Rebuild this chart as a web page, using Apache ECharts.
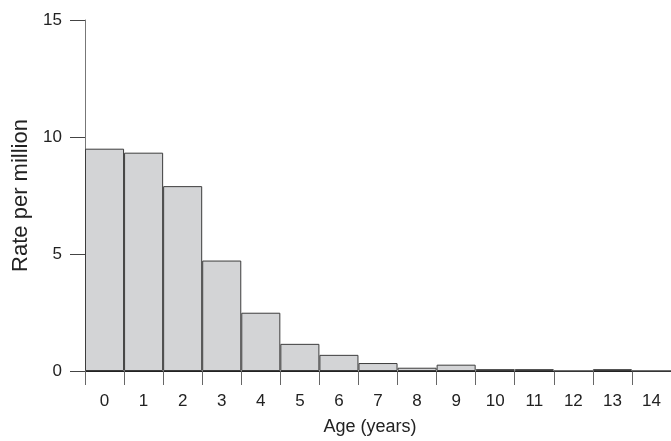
<!DOCTYPE html>
<html>
<head>
<meta charset="utf-8">
<script src="https://cdn.jsdelivr.net/npm/echarts@6/dist/echarts.min.js"></script>
<style>
html,body{margin:0;padding:0;background:#fff;}
#chart{width:671px;height:441px;}
</style>
</head>
<body>
<div id="chart"></div>
<script>
var ages = ['0','1','2','3','4','5','6','7','8','9','10','11','12','13','14'];
var rates = [9.5, 9.33, 7.9, 4.72, 2.49, 1.16, 0.69, 0.34, 0.14, 0.27, 0.08, 0.08, 0, 0.08, 0];
var yTicks = [0, 5, 10, 15];
var xTitle = 'Age (years)';
var yTitle = 'Rate per million';

var FONT = '"Liberation Sans", Arial, Helvetica, sans-serif';
var chart = echarts.init(document.getElementById('chart'), null, {renderer: 'canvas'});
chart.setOption({
  animation: false,
  backgroundColor: '#ffffff',
  grid: {left: 85, right: 0, top: 20, bottom: 68, containLabel: false},
  xAxis: {
    type: 'category',
    data: ages,
    boundaryGap: true,
    name: xTitle,
    nameLocation: 'middle',
    nameGap: 47,
    nameTextStyle: {fontFamily: FONT, fontSize: 18, color: '#222', padding: [0, 16, 0, 0]},
    axisLine: {show: true, lineStyle: {color: '#222', width: 1}},
    axisTick: {show: true, length: 14, alignWithLabel: false, lineStyle: {color: '#666', width: 1}},
    axisLabel: {fontFamily: FONT, fontSize: 17, color: '#222', margin: 22, interval: 0},
    splitLine: {show: false}
  },
  yAxis: {
    type: 'value',
    min: yTicks[0],
    max: yTicks[yTicks.length - 1],
    interval: 5,
    name: yTitle,
    nameLocation: 'middle',
    nameGap: 52,
    nameRotate: 90,
    nameTextStyle: {fontFamily: FONT, fontSize: 22, color: '#222'},
    axisLine: {show: true, lineStyle: {color: '#777', width: 1}},
    axisTick: {show: true, length: 15, lineStyle: {color: '#444', width: 1}},
    axisLabel: {fontFamily: FONT, fontSize: 17, color: '#222', margin: 23},
    splitLine: {show: false}
  },
  series: [{
    type: 'bar',
    data: rates,
    barCategoryGap: '0%',
    itemStyle: {color: '#d3d4d6', borderColor: '#3c3c3c', borderWidth: 1}
  }]
});
</script>
</body>
</html>
